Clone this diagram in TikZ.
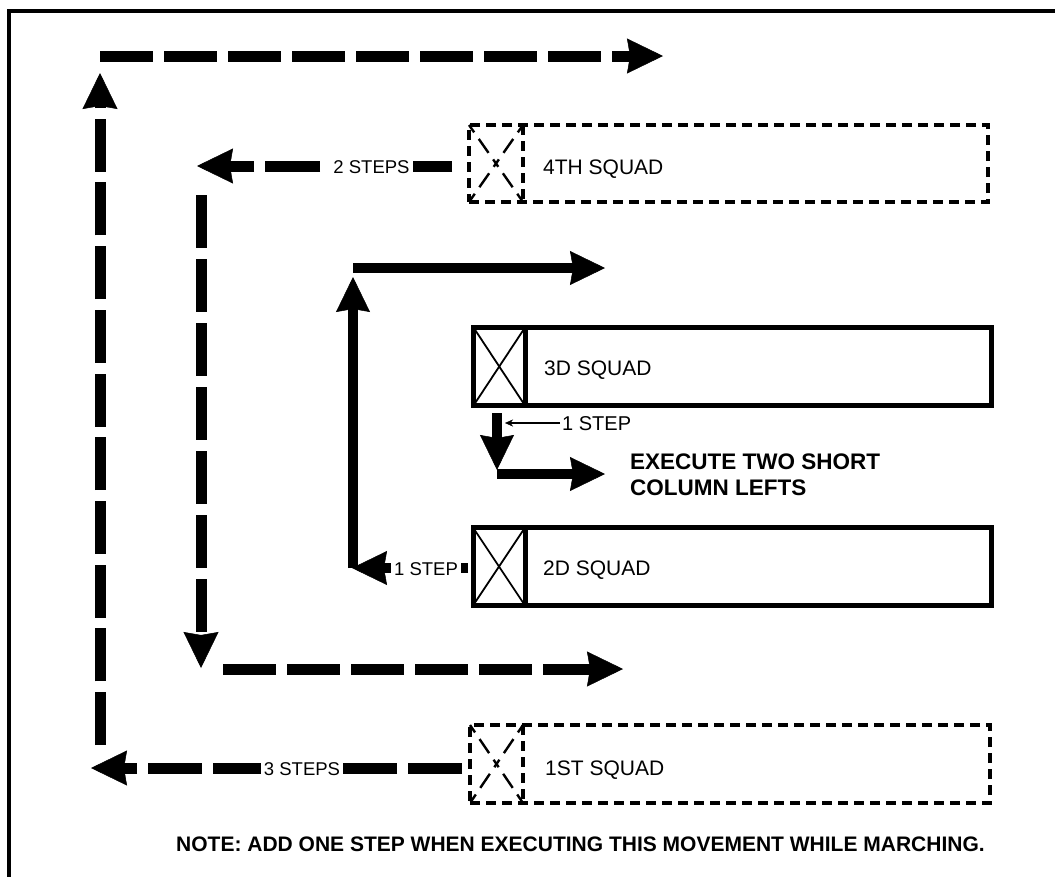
\documentclass[tikz,border=0pt]{standalone}
\usepackage{fontspec}
\setmainfont{Liberation Sans}
\usetikzlibrary{arrows.meta,calc}
\begin{document}
\begin{tikzpicture}[x=1pt,y=-1pt,
  frame/.style={line width=3.5pt},
  mv/.style={line width=11pt,-{Stealth[length=36pt,width=35pt,inset=3pt,line width=0.5pt]}},
  mvdash/.style={mv,dash pattern=on 53pt off 11pt},
  solidmv/.style={line width=10.5pt,-{Stealth[length=35pt,width=34pt,inset=3pt,line width=0.5pt]}},
  thinmv/.style={line width=1.3pt,-{Stealth[length=8pt,width=7pt,line width=0.3pt]}},
  sqsolid/.style={draw,line width=5pt,inner sep=0pt,outer sep=0pt,minimum height=78pt},
  sqdash/.style={draw,line width=4.5pt,dash pattern=on 10pt off 6pt,inner sep=0pt,outer sep=0pt,minimum height=77pt},
  divsolid/.style={line width=5pt},
  divdash/.style={line width=4.5pt,dash pattern=on 10pt off 6pt},
  xsolid/.style={line width=1.8pt},
  xdash/.style={line width=2.4pt,dash pattern=on 9pt off 8pt on 17pt off 8pt on 9pt off 8pt on 17pt off 8pt on 9pt off 30pt},
  lbl/.style={font=\fontsize{21}{25}\selectfont,anchor=base west,inner sep=0pt},
  steplbl/.style={font=\fontsize{18.5}{22}\selectfont,fill=white,inner xsep=3pt,inner ysep=2pt,anchor=base},
  boldlbl/.style={font=\bfseries\fontsize{21}{25}\selectfont,anchor=base west,inner sep=0pt}]
\useasboundingbox (0,0) rectangle (1055,876);
\draw[frame] (9,880) -- (9,11) -- (1060,11);

% squads
\node[sqdash,minimum width=519pt] (sq4) at (728.5,163.5) {};
\node[sqsolid,minimum width=517.5pt] (sq3) at (732.25,366.5) {};
\node[sqsolid,minimum width=518pt] (sq2) at (732,566.5) {};
\node[sqdash,minimum width=520pt,minimum height=78pt] (sq1) at (730,764) {};

\coordinate (c4t) at ($(sq4.north west)+(54,0)$);
\coordinate (c4b) at ($(sq4.south west)+(54,0)$);
\draw[divdash] (c4t) -- (c4b);
\draw[xdash] (sq4.north west) -- (c4b);
\draw[xdash] (c4t) -- (sq4.south west);

\coordinate (c3t) at ($(sq3.north west)+(51.5,0)$);
\coordinate (c3b) at ($(sq3.south west)+(51.5,0)$);
\draw[divsolid] (c3t) -- (c3b);
\draw[xsolid] (sq3.north west) -- (c3b);
\draw[xsolid] (c3t) -- (sq3.south west);

\coordinate (c2t) at ($(sq2.north west)+(52,0)$);
\coordinate (c2b) at ($(sq2.south west)+(52,0)$);
\draw[divsolid] (c2t) -- (c2b);
\draw[xsolid] (sq2.north west) -- (c2b);
\draw[xsolid] (c2t) -- (sq2.south west);

\coordinate (c1t) at ($(sq1.north west)+(53,0)$);
\coordinate (c1b) at ($(sq1.south west)+(53,0)$);
\draw[divdash] (c1t) -- (c1b);
\draw[xdash] (sq1.north west) -- (c1b);
\draw[xdash] (c1t) -- (sq1.south west);

\node[lbl] (l4) at (543,174.5) {4TH SQUAD};
\node[lbl] (l3) at (544,375) {3D SQUAD};
\node[lbl] (l2) at (543,575) {2D SQUAD};
\node[lbl] (l1) at (545,775) {1ST SQUAD};

% arrow end points
\coordinate (A0) at (100,745); \coordinate (A1) at (100,73);
\coordinate (B0) at (100,56);  \coordinate (B1) at (663,56);
\coordinate (C0) at (452,166); \coordinate (C1) at (197,166);
\coordinate (D0) at (201,195); \coordinate (D1) at (201,668);
\coordinate (E0) at (223,669); \coordinate (E1) at (623,669);
\coordinate (F0) at (462,768); \coordinate (F1) at (91,768);
\coordinate (G0) at (468,568); \coordinate (G1) at (352,568);
\coordinate (H0) at (353,568); \coordinate (H1) at (353,277);
\coordinate (I0) at (353,268); \coordinate (I1) at (605,268);
\coordinate (J0) at (497,413); \coordinate (J1) at (497,470);
\coordinate (K0) at (497,474); \coordinate (K1) at (605,474);
\coordinate (L0) at (560,423); \coordinate (L1) at (505,423);

% dashed moves
\draw[mvdash,dash pattern=on 53pt off 10.7pt] (A0) -- (A1);
\draw[mvdash] (B0) -- (B1);
\draw[mvdash,dash pattern=on 55pt off 11pt] (C0) -- (C1);
\draw[mvdash] (D0) -- (D1);
\draw[mvdash] (E0) -- (E1);
\draw[mvdash,dash pattern=on 54pt off 11pt] (F0) -- (F1);

% solid moves
\draw[solidmv] (G0) -- (G1);
\draw[solidmv] (H0) -- (H1);
\draw[solidmv] (I0) -- (I1);
\draw[solidmv] (J0) -- (J1);
\draw[solidmv] (K0) -- (K1);
\draw[thinmv] (L0) -- (L1);

% step labels
\node[steplbl] (s2) at (371.5,173) {2 STEPS};
\node[steplbl] (s3) at (302,775.5) {3 STEPS};
\node[steplbl] (s1b) at (426,575) {1 STEP};
\node[lbl,font=\fontsize{20}{24}\selectfont] (s1a) at (562,430) {1 STEP};

\node[boldlbl,font=\bfseries\fontsize{22.5}{26}\selectfont] (ex1) at (630,469) {EXECUTE TWO SHORT};
\node[boldlbl,font=\bfseries\fontsize{22.5}{26}\selectfont] (ex2) at (630,495) {COLUMN LEFTS};
\node[boldlbl] (note) at (176,851) {NOTE: ADD ONE STEP WHEN EXECUTING THIS MOVEMENT WHILE MARCHING.};
\end{tikzpicture}
\end{document}
